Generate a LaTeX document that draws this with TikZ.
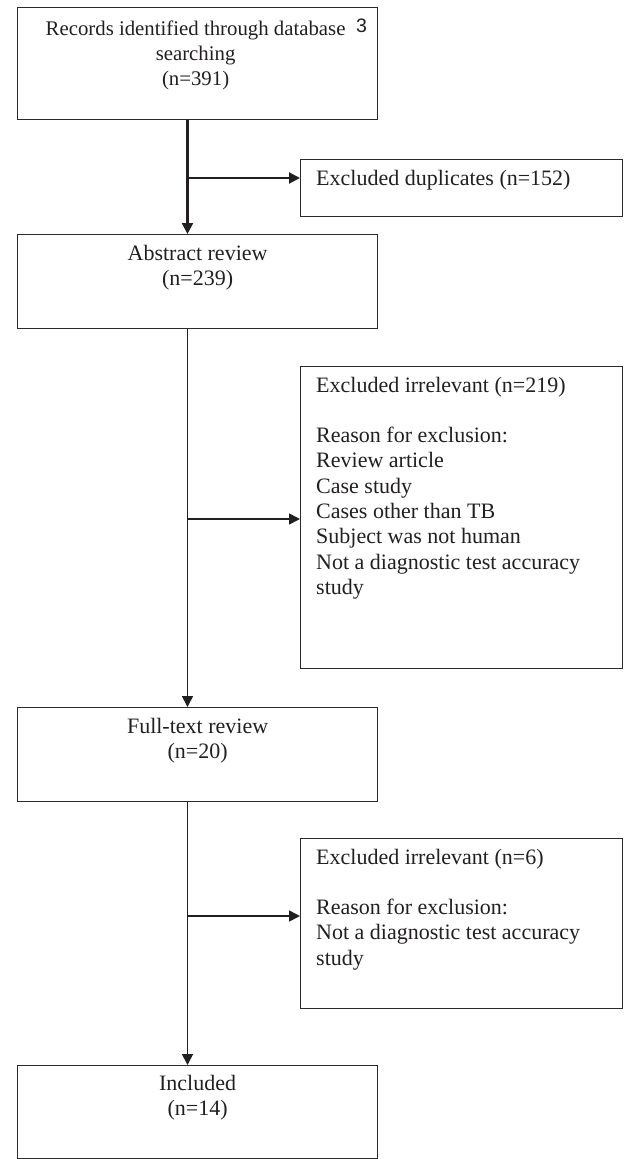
\documentclass[tikz,border=0pt]{standalone}
\usepackage{fontspec}
\setmainfont{Liberation Serif}
\newfontfamily\numfont{Liberation Sans}
\usetikzlibrary{arrows.meta,calc}
\definecolor{ink}{HTML}{231F20}
\definecolor{edge}{HTML}{2B2B2B}
\begin{document}
\begin{tikzpicture}[x=1pt,y=-1pt,
  flowbox/.style={draw=edge, line width=1.2pt, inner sep=0pt, anchor=north west},
  ctext/.style={inner sep=0pt, anchor=base, text=ink, font=\fontsize{22}{25.3}\selectfont},
  ltext/.style={inner sep=0pt, anchor=base west, text=ink, font=\fontsize{22}{25.3}\selectfont},
  conn/.style={draw=ink, line width=1.6pt, -{Triangle[length=11pt,width=11pt]}},
  connthick/.style={conn, line width=2.1pt}
]
\fill[white] (0,0) rectangle (625,1159);
\useasboundingbox (0,0) rectangle (625,1159);

% main boxes
\node[flowbox, minimum width=360pt, minimum height=112pt] (b1) at (17,7) {};
\node[flowbox, minimum width=360pt, minimum height=94pt] (b2) at (17,234) {};
\node[flowbox, minimum width=360pt, minimum height=94pt] (b3) at (17,707) {};
\node[flowbox, minimum width=360pt, minimum height=93pt] (b4) at (17,1065) {};
% side boxes
\node[flowbox, minimum width=322pt, minimum height=57pt] (d1) at (300,159) {};
\node[flowbox, minimum width=322pt, minimum height=302pt] (e1) at (300,366) {};
\node[flowbox, minimum width=322pt, minimum height=170pt] (e2) at (300,838) {};

% texts
\node[ctext, font=\fontsize{20.8}{25.3}\selectfont] (t1) at ($(b1.north)+(-2,28)$) {\parbox[t]{340pt}{\centering Records identified through database\\searching\\(n=391)}};
\node[inner sep=0pt, anchor=base, text=ink, font=\numfont\fontsize{19.5}{22}\selectfont] (mark) at (361.5,32) {3};
\node[ctext] (t2) at ($(b2.north)+(0,26)$) {\parbox[t]{340pt}{\centering Abstract review\\(n=239)}};
\node[ctext] (t3) at ($(b3.north)+(0,26)$) {\parbox[t]{340pt}{\centering Full-text review\\(n=20)}};
\node[ctext] (t4) at ($(b4.north)+(0,25)$) {\parbox[t]{340pt}{\centering Included\\(n=14)}};
\node[ltext] (td) at ($(d1.north west)+(16,26)$) {Excluded duplicates (n=152)};
\node[ltext] (te1) at ($(e1.north west)+(16,26)$) {\parbox[t]{300pt}{\raggedright Excluded irrelevant (n=219)\\[25.3pt]Reason for exclusion:\\Review article\\Case study\\Cases other than TB\\Subject was not human\\Not a diagnostic test accuracy\\study}};
\node[ltext] (te2) at ($(e2.north west)+(16,26)$) {\parbox[t]{300pt}{\raggedright Excluded irrelevant (n=6)\\[25.3pt]Reason for exclusion:\\Not a diagnostic test accuracy\\study}};

% connectors
\coordinate (sp) at (187.5,0);
\coordinate (j1) at (187.5,178);
\coordinate (j2) at (187.5,519);
\coordinate (j3) at (187.5,916);
\draw[connthick] (b1.south -| sp) -- (b2.north -| sp);
\draw[connthick] (j1) -- (j1 -| d1.west);
\draw[conn] (b2.south -| sp) -- (b3.north -| sp);
\draw[conn] (j2) -- (j2 -| e1.west);
\draw[conn] (b3.south -| sp) -- (b4.north -| sp);
\draw[conn] (j3) -- (j3 -| e2.west);
\end{tikzpicture}
\end{document}
